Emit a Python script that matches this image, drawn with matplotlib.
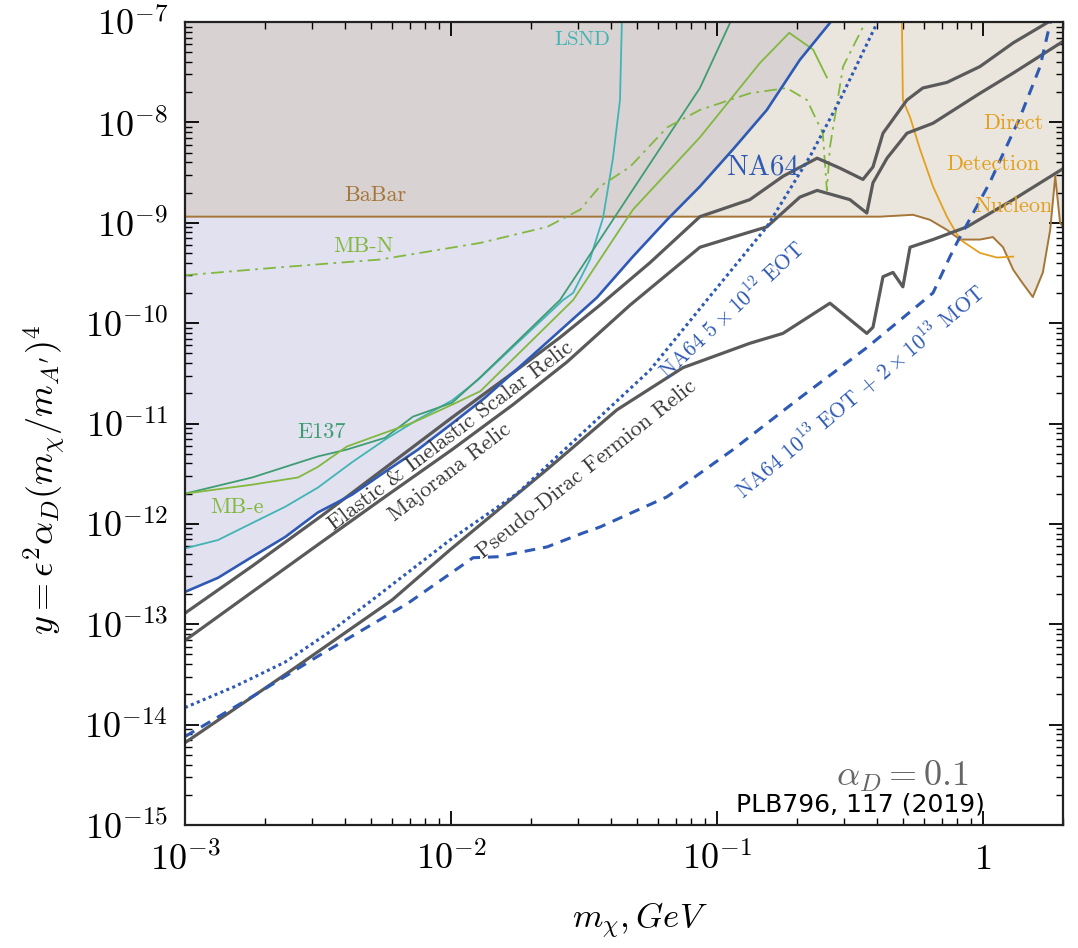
import numpy as np
import matplotlib
matplotlib.use('Agg')
import matplotlib.pyplot as plt

plt.rcParams['mathtext.fontset'] = 'cm'

# ---- data (m_chi in GeV, y dimensionless) ----
na64_m = [1e-3, 1.33e-3, 1.79e-3, 2.38e-3, 3.16e-3, 4.24e-3, 5.65e-3, 7.52e-3, 1.01e-2, 1.34e-2,
          1.71e-2, 3.54e-2, 4.83e-2, 6.49e-2, 8.63e-2, 0.115, 0.154, 0.205, 0.266]
na64_y = [2.1e-13, 2.9e-13, 4.7e-13, 7.4e-13, 1.3e-12, 1.95e-12, 3.3e-12, 5.5e-12, 1.0e-11, 1.8e-11,
          3.2e-11, 1.8e-10, 4.6e-10, 1.07e-9, 2.3e-9, 5.4e-9, 1.33e-8, 4.2e-8, 9.8e-8]

babar_m = [1e-3, 0.41, 0.546, 0.632, 0.732, 0.82, 0.975, 1.09, 1.19, 1.30, 1.41, 1.54, 1.68, 1.79,
           1.87, 1.95, 2.0]
babar_y = [1.15e-9, 1.15e-9, 1.2e-9, 1.07e-9, 8.5e-10, 6.8e-10, 6.8e-10, 7.2e-10, 5.7e-10, 3.4e-10,
           2.5e-10, 1.82e-10, 3.2e-10, 8.5e-10, 2.9e-9, 1.0e-9, 9.1e-10]

scalar_m = [1e-3, 1.79e-3, 3.30e-3, 5.65e-3, 1.01e-2, 1.71e-2, 2.57e-2, 3.63e-2, 5.60e-2, 8.63e-2,
            0.133, 0.177, 0.238, 0.290, 0.354, 0.386, 0.421, 0.518, 0.594, 0.732, 0.975, 1.30, 1.74]
scalar_y = [1.29e-13, 3.8e-13, 1.23e-12, 3.6e-12, 1.15e-11, 3.2e-11, 7.2e-11, 1.51e-10, 4.0e-10, 1.15e-9,
            1.7e-9, 2.9e-9, 4.4e-9, 3.5e-9, 2.7e-9, 3.6e-9, 7.8e-9, 1.67e-8, 2.2e-8, 2.5e-8, 3.6e-8,
            6.2e-8, 9.8e-8]

majorana_m = [1e-3, 1.79e-3, 3.16e-3, 5.65e-3, 1.01e-2, 1.71e-2, 2.73e-2, 4.71e-2, 8.63e-2, 0.115,
              0.154, 0.205, 0.238, 0.316, 0.366, 0.386, 0.436, 0.518, 0.649, 0.975, 1.30, 1.98]
majorana_y = [6.9e-14, 2.1e-13, 6.2e-13, 1.86e-12, 5.5e-12, 1.54e-11, 4.1e-11, 1.51e-10, 5.7e-10, 7.2e-10,
              9.1e-10, 1.8e-9, 2.1e-9, 1.7e-9, 1.25e-9, 2.5e-9, 4.4e-9, 7.8e-9, 9.8e-9, 1.95e-8,
              3.1e-8, 6.3e-8]

pdirac_m = [1e-3, 2.48e-3, 6.0e-3, 9.91e-3, 2.36e-2, 4.21e-2, 7.45e-2, 0.133, 0.177, 0.266, 0.366,
            0.386, 0.421, 0.459, 0.500, 0.532, 0.649, 0.871, 1.30, 1.98]
pdirac_y = [6.6e-15, 3.4e-14, 1.74e-13, 5.5e-13, 3.7e-12, 1.37e-11, 3.6e-11, 6.3e-11, 7.9e-11, 1.58e-10,
            7.9e-11, 9.1e-11, 2.9e-10, 3.2e-10, 2.3e-10, 5.7e-10, 6.8e-10, 9.1e-10, 1.7e-9, 3.4e-9]

eot_m = [1e-3, 1.54e-3, 2.38e-3, 3.66e-3, 5.05e-3, 9.91e-3, 1.77e-2, 3.13e-2, 5.60e-2, 9.17e-2, 0.154,
         0.224, 0.290, 0.400]
eot_y = [1.48e-14, 2.4e-14, 4.2e-14, 9.1e-14, 1.74e-13, 6.9e-13, 2.0e-12, 8.1e-12, 3.4e-11, 1.7e-10,
         9.1e-10, 4.6e-9, 1.67e-8, 9.8e-8]

mot_m = [1e-3, 1.79e-3, 3.16e-3, 6.89e-3, 1.21e-2, 1.49e-2, 2.30e-2, 3.13e-2, 3.63e-2, 6.49e-2, 0.115,
         0.205, 0.366, 0.649, 0.752, 0.798, 1.06, 1.38, 1.64, 1.79]
mot_y = [7.6e-15, 1.9e-14, 4.8e-14, 1.62e-13, 4.6e-13, 4.7e-13, 5.9e-13, 8.1e-13, 9.3e-13, 1.86e-12,
         5.5e-12, 1.8e-11, 5.7e-11, 2.0e-10, 4.6e-10, 6.3e-10, 2.5e-9, 1.13e-8, 3.6e-8, 9.8e-8]

lsnd_m = [1e-3, 1.33e-3, 1.79e-3, 2.38e-3, 3.16e-3, 4.24e-3, 5.65e-3, 7.52e-3, 1.01e-2, 1.26e-2,
          2.64e-2, 2.88e-2, 3.33e-2, 3.73e-2, 4.06e-2, 4.32e-2, 4.39e-2]
lsnd_y = [5.7e-13, 6.9e-13, 1.02e-12, 1.48e-12, 2.3e-12, 4.1e-12, 6.9e-12, 1.1e-11, 1.7e-11, 2.7e-11,
          1.7e-10, 2.0e-10, 4.3e-10, 1.12e-9, 4.3e-9, 1.67e-8, 1.0e-7]

e137_m = [1e-3, 1.79e-3, 3.16e-3, 4.06e-3, 5.65e-3, 7.19e-3, 1.01e-2, 1.29e-2, 2.57e-2, 8.63e-2, 0.112]
e137_y = [2.0e-12, 2.9e-12, 4.7e-12, 5.5e-12, 7.2e-12, 1.17e-11, 1.61e-11, 2.9e-11, 1.7e-10, 2.2e-8, 9.8e-8]

mbe_m = [1e-3, 1.79e-3, 2.66e-3, 3.16e-3, 4.06e-3, 5.65e-3, 7.19e-3, 1.01e-2, 1.29e-2, 2.88e-2,
         4.83e-2, 8.63e-2, 0.145, 0.187, 0.230, 0.259]
mbe_y = [2.0e-12, 2.46e-12, 2.9e-12, 3.7e-12, 5.9e-12, 8.1e-12, 1.02e-11, 1.54e-11, 2.1e-11, 1.7e-10,
         1.35e-9, 7.1e-9, 3.9e-8, 7.8e-8, 5.3e-8, 2.8e-8]

mbn_m = [1e-3, 2.28e-3, 5.41e-3, 1.29e-2, 2.30e-2, 3.06e-2, 3.63e-2, 4.71e-2, 6.49e-2, 8.63e-2,
         0.133, 0.183, 0.218, 0.250, 0.259, 0.266, 0.298, 0.354]
mbn_y = [3.0e-10, 3.6e-10, 4.3e-10, 6.3e-10, 9.1e-10, 1.35e-9, 2.3e-9, 3.6e-9, 8.9e-9, 1.33e-8,
         1.95e-8, 2.2e-8, 1.67e-8, 7.8e-9, 2.1e-9, 5.7e-9, 3.6e-8, 8.9e-8]

dd_m = [0.496, 0.500, 0.532, 0.580, 0.649, 0.732, 0.820, 0.975, 1.13, 1.30]
dd_y = [1.0e-7, 1.67e-8, 1.13e-8, 5.4e-9, 2.3e-9, 1.15e-9, 6.8e-10, 5.0e-10, 4.5e-10, 4.6e-10]

xticks = [1e-3, 1e-2, 1e-1, 1]
xtick_labels = [r'$10^{-3}$', r'$10^{-2}$', r'$10^{-1}$', r'$1$']
yticks = [1e-15, 1e-14, 1e-13, 1e-12, 1e-11, 1e-10, 1e-9, 1e-8, 1e-7]
ytick_labels = [r'$10^{-15}$', r'$10^{-14}$', r'$10^{-13}$', r'$10^{-12}$', r'$10^{-11}$',
                r'$10^{-10}$', r'$10^{-9}$', r'$10^{-8}$', r'$10^{-7}$']

# ---- colours ----
c_relic = '#5a5a5a'
c_blue = '#2f5ab4'
c_lsnd = '#42b4b4'
c_e137 = '#3f9d72'
c_mb = '#82b83e'
c_babar = '#a57638'
c_dd = '#e3a01f'

fig = plt.figure(figsize=(10.78, 9.48), dpi=100)
ax = fig.add_axes([185 / 1078, 1 - 825 / 948, 878 / 1078, 803 / 948])
ax.set_xscale('log')
ax.set_yscale('log')
ax.set_xlim(1e-3, 2.0)
ax.set_ylim(1e-15, 1e-7)

# shaded exclusion regions
babar_fill = ax.fill_between(babar_m, babar_y, 1e-7, color='#ebe6dd', lw=0, zorder=1)
ax.fill_between(na64_m, na64_y, 1e-7, color='#e1e1f0', lw=0, zorder=1)
overlap = ax.fill_between(na64_m, na64_y, 1e-7, color='#d8d2d3', lw=0, zorder=1.5)
overlap.set_clip_path(babar_fill.get_paths()[0], babar_fill.get_transform())

# existing limits
ax.plot(babar_m, babar_y, color=c_babar, lw=1.4, zorder=3)
ax.plot(dd_m, dd_y, color=c_dd, lw=1.3, zorder=3)
ax.plot(lsnd_m, lsnd_y, color=c_lsnd, lw=1.3, zorder=3)
ax.plot(e137_m, e137_y, color=c_e137, lw=1.3, zorder=3)
ax.plot(mbe_m, mbe_y, color=c_mb, lw=1.3, zorder=3)
ax.plot(mbn_m, mbn_y, color=c_mb, lw=1.3, ls=(0, (7, 3, 1.5, 3)), zorder=3)

# relic targets
ax.plot(scalar_m, scalar_y, color=c_relic, lw=2.3, zorder=4)
ax.plot(majorana_m, majorana_y, color=c_relic, lw=2.3, zorder=4)
ax.plot(pdirac_m, pdirac_y, color=c_relic, lw=2.3, zorder=4)

# NA64
ax.plot(na64_m, na64_y, color=c_blue, lw=1.9, zorder=5)
ax.plot(eot_m, eot_y, color=c_blue, lw=2.2, ls=(0, (1, 1.1)), zorder=5)
ax.plot(mot_m, mot_y, color=c_blue, lw=2.2, ls=(0, (3.5, 2.6)), zorder=5)

# labels
lab = dict(fontfamily='cmr10', ha='center', va='center', zorder=6)
ax.text(3.13e-2, 6.6e-8, 'LSND', color=c_lsnd, fontsize=15, **lab)
ax.text(5.18e-3, 1.9e-9, 'BaBar', color=c_babar, fontsize=16, **lab)
ax.text(4.67e-3, 5.9e-10, 'MB-N', color=c_mb, fontsize=16, **lab)
ax.text(3.27e-3, 8.1e-12, 'E137', color=c_e137, fontsize=16, **lab)
ax.text(1.57e-3, 1.48e-12, 'MB-e', color=c_mb, fontsize=16, **lab)
ax.text(0.148, 3.5e-9, 'NA64', color=c_blue, fontsize=21, **lab)
ax.text(1.30, 9.8e-9, 'Direct', color=c_dd, fontsize=16, **lab)
ax.text(1.09, 3.8e-9, 'Detection', color=c_dd, fontsize=16, **lab)
ax.text(1.30, 1.47e-9, 'Nucleon', color=c_dd, fontsize=16, **lab)

ax.text(1.0e-2, 7.6e-12, 'Elastic & Inelastic Scalar Relic', color='#383838', fontsize=16,
        rotation=37, rotation_mode='anchor', **lab)
ax.text(9.9e-3, 3.3e-12, 'Majorana Relic', color='#383838', fontsize=16,
        rotation=37.5, rotation_mode='anchor', **lab)
ax.text(3.25e-2, 3.5e-12, 'Pseudo-Dirac Fermion Relic', color='#383838', fontsize=16,
        rotation=38.5, rotation_mode='anchor', **lab)
ax.text(0.113, 1.35e-10, r'NA64 $5\times10^{12}$ EOT', color=c_blue, fontsize=15.5,
        rotation=43, rotation_mode='anchor', **lab)
ax.text(0.345, 2.1e-11, r'NA64 $10^{13}$ EOT $+\ 2\times10^{13}$ MOT', color=c_blue, fontsize=15.5,
        rotation=40, rotation_mode='anchor', **lab)

ax.text(0.817, 0.06, r'$\alpha_D = 0.1$', transform=ax.transAxes, color='#666666', fontsize=26,
        ha='center', va='center')
ax.text(0.911, 0.026, 'PLB796, 117 (2019)', transform=ax.transAxes, color='black', fontsize=18,
        fontfamily='DejaVu Sans', ha='right', va='center')

# axes styling
ax.set_xticks(xticks)
ax.set_xticklabels(xtick_labels)
ax.set_yticks(yticks)
ax.set_yticklabels(ytick_labels)
ax.tick_params(which='both', direction='in', top=True, right=True)
ax.tick_params(which='major', length=10, width=1.3, labelsize=26, pad=12)
ax.tick_params(which='minor', length=5, width=1.0)
for s in ax.spines.values():
    s.set_linewidth(1.6)
    s.set_color('#222222')
    s.set_zorder(10)

ax.set_xlabel(r'$m_\chi, GeV$', fontsize=25)
ax.set_ylabel(r"$y = \epsilon^2\alpha_D(m_\chi/m_{A'})^4$", fontsize=26)
ax.xaxis.set_label_coords(0.518, -0.095)
ax.yaxis.set_label_coords(-0.133, 0.43)

plt.savefig('out.png', dpi=100)
plt.close()
